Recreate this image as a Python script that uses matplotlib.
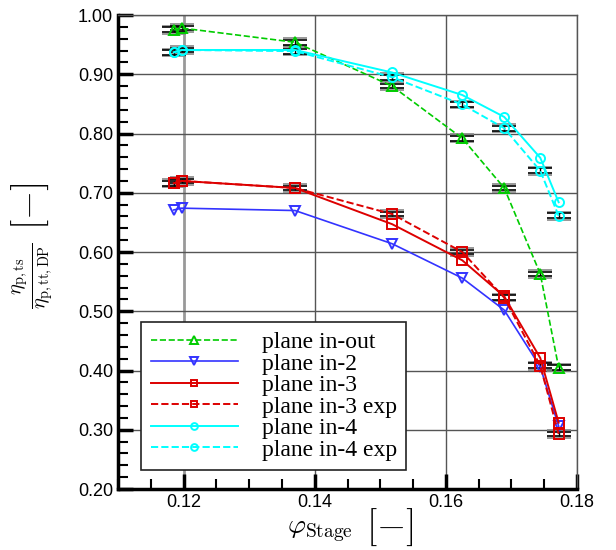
import matplotlib.pyplot as plt
from matplotlib.ticker import MultipleLocator, FormatStrFormatter

plt.rcParams['mathtext.fontset'] = 'cm'

# flow coefficient of the operating points
phi = [0.1185, 0.1197, 0.1370, 0.1518, 0.1625, 0.1689, 0.1744, 0.1772]

# normalised total-to-static efficiency per plane
eta_in_out = [0.975, 0.978, 0.954, 0.880, 0.792, 0.708, 0.563, 0.405]
eta_in2 = [0.671, 0.674, 0.670, 0.614, 0.556, 0.502, 0.406, 0.306]
eta_in3 = [0.716, 0.720, 0.708, 0.647, 0.586, 0.525, 0.421, 0.312]
eta_in3_exp = [0.716, 0.720, 0.708, 0.664, 0.600, 0.523, 0.408, 0.293]
eta_in4 = [0.937, 0.941, 0.941, 0.903, 0.865, 0.828, 0.759, 0.684]
eta_in4_exp = [0.937, 0.941, 0.939, 0.895, 0.849, 0.809, 0.737, 0.661]

err = 0.004

fig = plt.figure(figsize=(6.16, 5.5), dpi=100)
ax = fig.add_axes([0.1916, 0.1109, 0.7451, 0.8618])

# error bars on the series that have them
for y in [eta_in_out, eta_in3_exp, eta_in4_exp]:
    ax.errorbar(phi, y, yerr=err * 1.6, fmt='none', ecolor='#888888', elinewidth=0,
                capsize=8.5, capthick=1.2, zorder=3)
    ax.errorbar(phi, y, yerr=err, fmt='none', ecolor='black', elinewidth=1,
                capsize=8.5, capthick=1.2, zorder=3)

ax.plot(phi, eta_in_out, '--', color='#00cc00', marker='^', mfc='none', ms=7, mew=1.4,
        lw=1.2, label='plane in-out', zorder=4)
ax.plot(phi, eta_in2, '-', color='#3333ff', marker='v', mfc='none', ms=7, mew=1.4,
        lw=1.2, label='plane in-2', zorder=4)
ax.plot(phi, eta_in3, '-', color='#dd0000', marker='s', mfc='none', ms=6.5, mew=1.4,
        lw=1.4, label='plane in-3', zorder=4)
ax.plot(phi, eta_in3_exp, '--', color='#dd0000', marker='s', mfc='none', ms=6.5, mew=1.4,
        lw=1.4, label='plane in-3 exp', zorder=4)
ax.plot(phi, eta_in4, '-', color='#00ffff', marker='o', mfc='none', ms=6.5, mew=1.4,
        lw=1.4, label='plane in-4', zorder=4)
ax.plot(phi, eta_in4_exp, '--', color='#00ffff', marker='o', mfc='none', ms=6.5, mew=1.4,
        lw=1.4, label='plane in-4 exp', zorder=4)

ax.set_xlim(0.11, 0.18)
ax.set_ylim(0.20, 1.00)
ax.xaxis.set_major_locator(MultipleLocator(0.02))
ax.xaxis.set_minor_locator(MultipleLocator(0.005))
ax.yaxis.set_major_locator(MultipleLocator(0.1))
ax.yaxis.set_minor_locator(MultipleLocator(0.02))
ax.xaxis.set_major_formatter(FormatStrFormatter('%.2f'))
ax.yaxis.set_major_formatter(FormatStrFormatter('%.2f'))

ax.grid(True, which='major', color='#555555', lw=1.0, zorder=0)
# the 0.12 line is drawn lighter and wider in the original
ax.get_xgridlines()[1].set_color('#999999')
ax.get_xgridlines()[1].set_linewidth(2.0)
ax.tick_params(which='both', direction='in', top=False, right=False,
               labelsize=13, width=1.5)
ax.tick_params(which='major', length=11, width=2.5)
ax.tick_params(which='minor', length=7)
for lab in ax.get_xticklabels() + ax.get_yticklabels():
    lab.set_family('Liberation Sans')

for s in ['left', 'bottom']:
    ax.spines[s].set_linewidth(2.5)
for s in ['top', 'right']:
    ax.spines[s].set_linewidth(1.0)
    ax.spines[s].set_color('#555555')

# axis labels: symbol and a larger bracket as separate texts
fig.text(287 / 616, 1 - 530 / 550, r'$\varphi_{\mathrm{Stage}}$', fontsize=20,
         ha='left', va='center')
fig.text(366 / 616, 1 - 527 / 550, r'$[-]$', fontsize=27, ha='left', va='center')
fig.text(33 / 616, 1 - 276 / 550, r'$\frac{\eta_{\mathrm{p,ts}}}{\eta_{\mathrm{p,tt,DP}}}$',
         fontsize=21, rotation=90, ha='center', va='center')
fig.text(30 / 616, 1 - 206 / 550, r'$[-]$', fontsize=27, rotation=90,
         ha='center', va='center')

leg = ax.legend(loc='lower left', bbox_to_anchor=(0.04, 0.03), handlelength=3.7,
                handletextpad=1.0, labelspacing=0.0, borderpad=0.4, borderaxespad=0.2,
                markerscale=0.75, fancybox=False, framealpha=1, edgecolor='#222222',
                prop={'family': 'Liberation Serif', 'size': 17})
leg.get_frame().set_linewidth(1.2)
leg.set_zorder(5)

fig.savefig('out.png', dpi=100)
